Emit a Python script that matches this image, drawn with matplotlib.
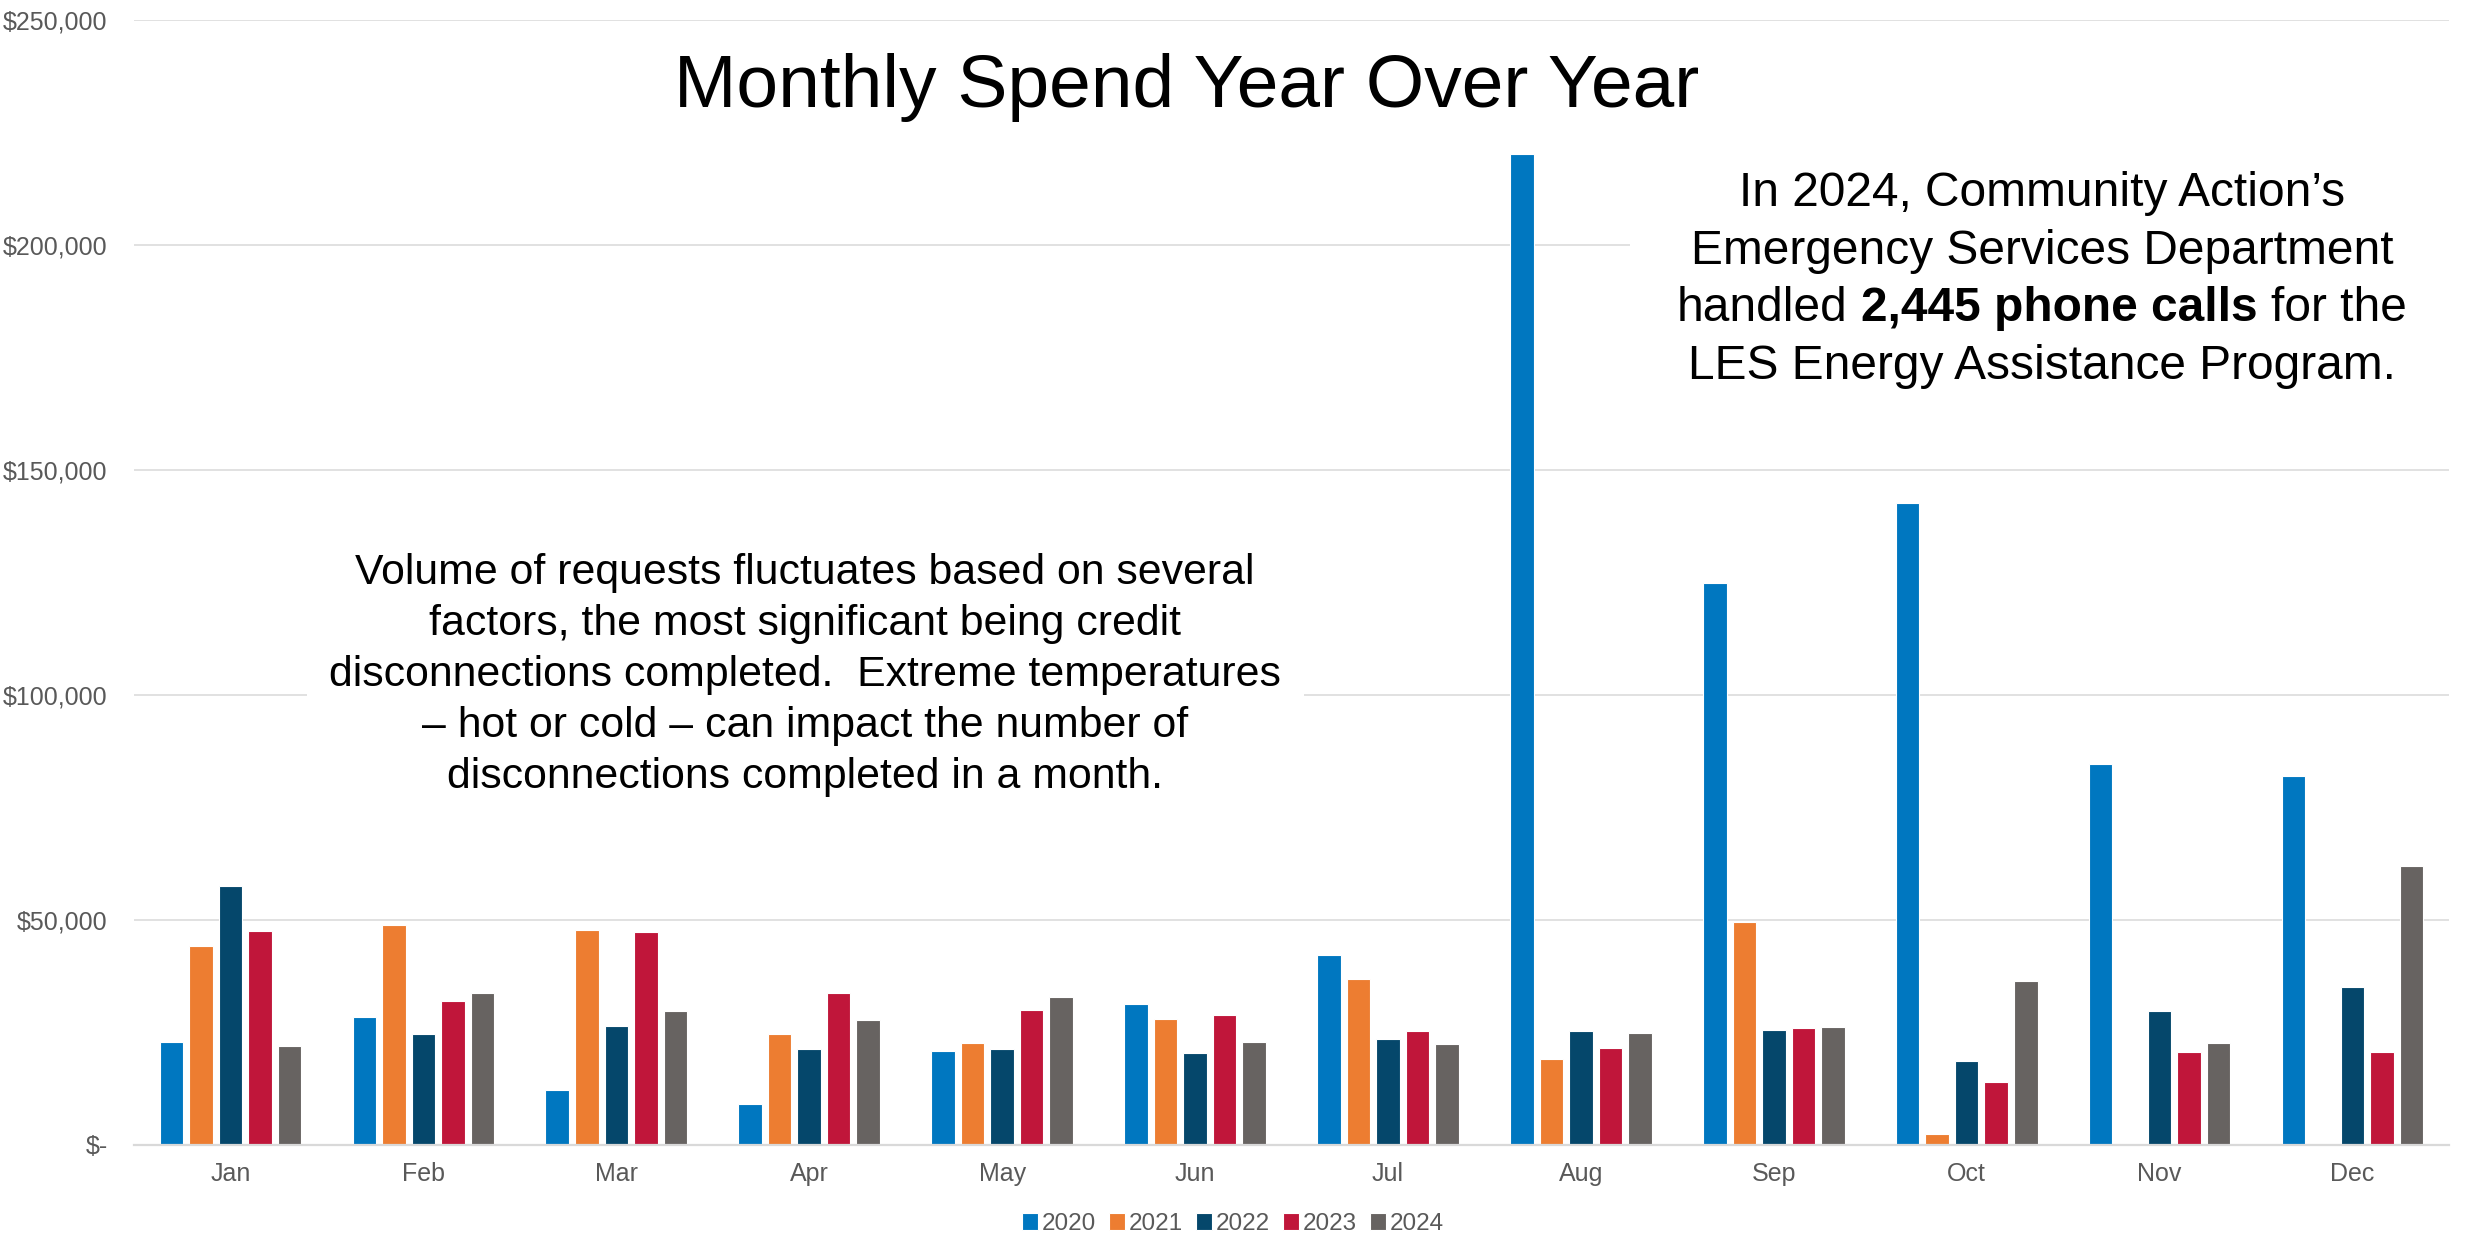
import numpy as np
import matplotlib
matplotlib.use("Agg")
import matplotlib.pyplot as plt
from matplotlib.patches import Rectangle
from matplotlib.ticker import FuncFormatter

plt.rcParams['font.family'] = ['Liberation Sans', 'DejaVu Sans']

months = ["Jan", "Feb", "Mar", "Apr", "May", "Jun",
          "Jul", "Aug", "Sep", "Oct", "Nov", "Dec"]
years = ["2020", "2021", "2022", "2023", "2024"]

spend_2020 = [22800, 28400, 12300, 9100, 21000, 31400,
              42300, 220300, 124900, 142600, 84700, 82000]
spend_2021 = [44200, 49000, 47800, 24600, 22600, 28100,
              36800, 19200, 49600, 2400, 0, 0]
spend_2022 = [57600, 24700, 26400, 21400, 21400, 20500,
              23600, 25400, 25600, 18600, 29800, 35100]
spend_2023 = [47500, 31900, 47400, 33800, 29900, 29000,
              25400, 21600, 25900, 13900, 20700, 20600]
spend_2024 = [22000, 33800, 29800, 27700, 33000, 22800,
              22500, 25000, 26200, 36500, 22700, 62000]

series = [spend_2020, spend_2021, spend_2022, spend_2023, spend_2024]
colors = ["#0077C0", "#ED7D31", "#05476B", "#C0163A", "#676361"]

title = "Monthly Spend Year Over Year"
left_note = ["Volume of requests fluctuates based on several",
             "factors, the most significant being credit",
             "disconnections completed.  Extreme temperatures",
             "\u2013 hot or cold \u2013 can impact the number of",
             "disconnections completed in a month."]
right_note_1 = "In 2024, Community Action\u2019s"
right_note_2 = "Emergency Services Department"
right_note_3 = [("handled", "normal"), ("2,445 phone calls", "bold"), ("for the", "normal")]
right_note_4 = "LES Energy Assistance Program."

W, H, DPI = 2470, 1236, 100
fig = plt.figure(figsize=(W / DPI, H / DPI), dpi=DPI)
ax = fig.add_axes([134 / W, 1 - 1145 / H, (2449 - 134) / W, (1145 - 20) / H])

x = np.arange(len(months))
pitch = 0.153
width = 0.122
for i, (vals, c, yr) in enumerate(zip(series, colors, years)):
    ax.bar(x + (i - 2) * pitch, vals, width, color=c, label=yr,
           edgecolor="white", linewidth=0.8, zorder=2)

ax.set_xlim(-0.5, 11.5)
ax.set_ylim(0, 250000)
ax.set_yticks(np.arange(0, 250001, 50000))
ax.yaxis.set_major_formatter(FuncFormatter(lambda v, p: "$-" if v == 0 else "${:,.0f}".format(v)))
ax.set_xticks(x)
ax.set_xticklabels(months)
ax.tick_params(axis="both", length=0, labelsize=18, labelcolor="#595959")
ax.tick_params(axis="y", pad=19)
ax.tick_params(axis="x", pad=12)
ax.grid(axis="y", color="#D9D9D9", linewidth=1.1, zorder=0)
ax.set_axisbelow(True)
for s in ["top", "right", "left"]:
    ax.spines[s].set_visible(False)
ax.spines["bottom"].set_color("#D9D9D9")
ax.spines["bottom"].set_linewidth(1.6)

ax.legend(loc="center", bbox_to_anchor=(1233 / W, 1 - 1224 / H),
          bbox_transform=fig.transFigure, ncol=5, frameon=False,
          fontsize=17.5, labelcolor="#595959", handlelength=0.65, handleheight=0.65,
          handletextpad=0.15, columnspacing=0.55)

# white boxes behind notes (cover gridlines)
ax.add_patch(Rectangle((307 / W, 1 - 800 / H), (1304 - 307) / W, (800 - 540) / H,
                       transform=fig.transFigure, facecolor="white", edgecolor="none",
                       zorder=3, clip_on=False))
ax.add_patch(Rectangle((1630 / W, 1 - 400 / H), (2465 - 1630) / W, (400 - 160) / H,
                       transform=fig.transFigure, facecolor="white", edgecolor="none",
                       zorder=3, clip_on=False))

fig.text(1187 / W, 1 - 107 / H, title, fontsize=54, ha="center", va="baseline")

for k, line in enumerate(left_note):
    fig.text(805 / W, 1 - (584 + 51 * k) / H, line, fontsize=30.8,
             ha="center", va="baseline", zorder=5)

fs_r = 34.5
cx = 2042
fig.text(cx / W, 1 - 206 / H, right_note_1, fontsize=fs_r, ha="center", va="baseline", zorder=5)
fig.text(cx / W, 1 - 264 / H, right_note_2, fontsize=fs_r, ha="center", va="baseline", zorder=5)
fig.text(cx / W, 1 - 379 / H, right_note_4, fontsize=fs_r, ha="center", va="baseline", zorder=5)

renderer = fig.canvas.get_renderer()
pieces = [fig.text(0, 1 - 321 / H, s, fontsize=fs_r, fontweight=w,
                   ha="left", va="baseline", zorder=5) for s, w in right_note_3]
widths = [t.get_window_extent(renderer).width for t in pieces]
space = 0.278 * fs_r * DPI / 72
xpos = cx - (sum(widths) + space * (len(pieces) - 1)) / 2
for t, w in zip(pieces, widths):
    t.set_x(xpos / W)
    xpos += w + space

fig.savefig("out.png", dpi=DPI)
